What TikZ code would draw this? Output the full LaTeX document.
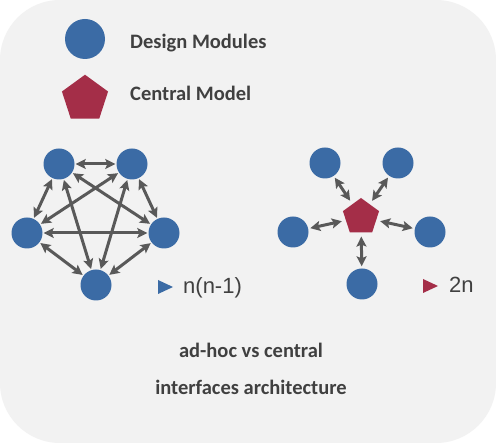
\documentclass[tikz,border=0pt]{standalone}
\usepackage{fontspec}
\setmainfont{Carlito}
\newfontfamily\numfont{Liberation Sans}
\usetikzlibrary{shapes.geometric,arrows.meta}
\definecolor{modblue}{HTML}{3B6BA5}
\definecolor{modred}{HTML}{A42E48}
\definecolor{arrgray}{HTML}{595959}
\definecolor{txtgray}{HTML}{404040}
\definecolor{bggray}{HTML}{F2F2F2}
\tikzset{
  module/.style={circle, fill=modblue, draw=none, inner sep=0pt, minimum size=31pt},
  bigmodule/.style={circle, fill=modblue, draw=none, inner sep=0pt, minimum size=40pt},
  central/.style={regular polygon, regular polygon sides=5, fill=modred, draw=none, inner sep=0pt, minimum size=38pt},
  bigcentral/.style={regular polygon, regular polygon sides=5, fill=modred, draw=none, inner sep=0pt, minimum size=48.5pt},
  link/.style={draw=arrgray, line width=3pt, {Stealth[length=10pt,width=10pt,inset=2pt]}-{Stealth[length=10pt,width=10pt,inset=2pt]}, shorten >=1pt, shorten <=1pt},
  clink/.style={link, shorten >=2pt, shorten <=4pt},
  legendtext/.style={font=\bfseries\fontsize{20.5}{24}\selectfont, text=txtgray, inner sep=0pt},
  counttext/.style={font=\numfont\fontsize{22}{26}\selectfont, text=txtgray, inner sep=0pt}
}
\begin{document}
\begin{tikzpicture}[x=1pt,y=-1pt]
\useasboundingbox (0,0) rectangle (496,443);
\fill[white] (0,0) rectangle (496,443);
\fill[bggray, rounded corners=60pt] (0,0) rectangle (496,443);

% legend
\node[bigmodule] (lgm) at (85,39) {};
\node[legendtext, anchor=base west] (lgmt) at (130,49) {Design Modules};
\node[bigcentral] (lgc) at (85,99) {};
\node[legendtext, anchor=base west] (lgct) at (130,101) {Central Model};

% ad-hoc graph
\node[module] (a1) at (59,164) {};
\node[module] (a2) at (132,164) {};
\node[module] (a3) at (27,233) {};
\node[module] (a4) at (164,233) {};
\node[module] (a5) at (96,285) {};
\draw[link] (a1) -- (a2);
\draw[link] (a1) -- (a3);
\draw[link] (a2) -- (a4);
\draw[link] (a3) -- (a5);
\draw[link] (a4) -- (a5);
\draw[link] (a1) -- (a4);
\draw[link] (a1) -- (a5);
\draw[link] (a2) -- (a3);
\draw[link] (a2) -- (a5);
\draw[link] (a3) -- (a4);

\fill[modblue] (158,280) -- (173,287) -- (158,294) -- cycle;
\node[counttext, anchor=base west] (na) at (183,294) {n(n-1)};

% central graph
\node[central] (c0) at (361,217) {};
\node[module] (b1) at (325,163) {};
\node[module] (b2) at (398,163) {};
\node[module] (b3) at (293,232) {};
\node[module] (b4) at (430,232) {};
\node[module] (b5) at (362,284) {};
\draw[clink] (c0) -- (b1);
\draw[clink] (c0) -- (b2);
\draw[clink] (c0) -- (b3);
\draw[clink] (c0) -- (b4);
\draw[clink] (c0) -- (b5);

\fill[modred] (423,279) -- (438,286) -- (423,293) -- cycle;
\node[counttext, anchor=base west] (nc) at (449,293) {2n};

% caption
\node[legendtext, anchor=base] (cap1) at (251,358) {ad-hoc vs central};
\node[legendtext, anchor=base] (cap2) at (251,395) {interfaces architecture};
\end{tikzpicture}
\end{document}
